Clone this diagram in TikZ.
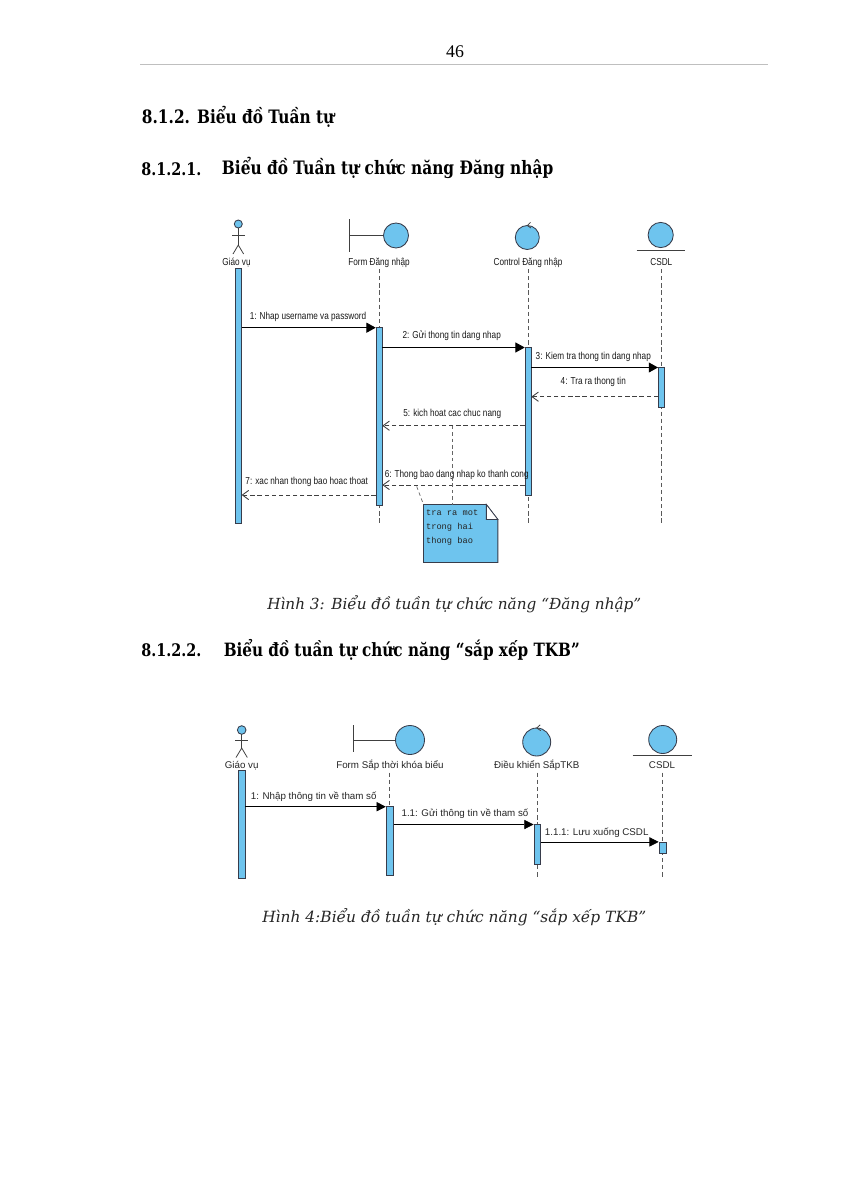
\documentclass[tikz,border=0pt]{standalone}
\usepackage{fontspec}
\setmainfont{DejaVu Serif}
\newfontfamily\headfont[FakeStretch=0.83]{DejaVu Serif}
\newfontfamily\diagA[FakeStretch=0.81]{Liberation Sans}
\newfontfamily\diagB{Liberation Sans}
\newfontfamily\notef{Liberation Mono}
\newfontfamily\pgnumf{Liberation Serif}
\usetikzlibrary{arrows.meta}
\newlength\pxu
\setlength\pxu{0.7017pt}
\definecolor{umlblue}{RGB}{110,196,238}
\definecolor{umledge}{RGB}{55,60,75}
\begin{document}
\begin{tikzpicture}[x=0.7017pt,y=-0.7017pt,
  lblA/.style={font=\diagA\fontsize{7.1}{8}\selectfont, inner sep=0, anchor=base, text=black!90},
  lblB/.style={font=\diagB\fontsize{6.85}{8}\selectfont, inner sep=0, anchor=base, text=black!85},
  actbar/.style={draw=umledge, fill=umlblue, line width=0.55pt, inner sep=0, anchor=north},
  lifeline/.style={draw=black!65, dash pattern=on 3pt off 2pt, line width=0.5pt},
  msgA/.style={draw=black, line width=0.6pt, -{Triangle[length=6.5pt,width=7pt]}},
  msgB/.style={draw=black, line width=0.55pt, -{Triangle[length=6.5pt,width=6.5pt]}},
  ret/.style={draw=black!75, line width=0.6pt, dash pattern=on 3pt off 2pt, -{Straight Barb[length=4.5pt,width=6.5pt]}},
  icon/.style={draw=umledge, fill=umlblue, line width=0.6pt},
  stick/.style={draw=black!75, line width=0.55pt},
  notebox/.style={draw=umledge, fill=umlblue, line width=0.55pt},
  notelink/.style={draw=black!60, dash pattern=on 2.5pt off 2pt, line width=0.5pt},
  headf/.style={font=\headfont\bfseries\fontsize{12.8}{15}\selectfont, inner sep=0, anchor=base west},
  capf/.style={font=\itshape\fontsize{12}{14}\selectfont, inner sep=0, anchor=base west, text=black!85}
]
\useasboundingbox[fill=white] (0,0) rectangle (848,1200);

% ---------- page header ----------
\node[font=\pgnumf\fontsize{12.5}{14}\selectfont, inner sep=0, anchor=base] (pnum) at (455,58) {46};
\coordinate (hlL) at (140,64);
\coordinate (hlR) at (768,64);
\draw[black!25, line width=0.6pt] (hlL) -- (hlR);

% ---------- headings ----------
\node[headf] (h1) at (141.7,123.3) {\resizebox{192.3\pxu}{!}{8.1.2. Biểu đồ Tuần tự}};
\node[headf] (h2) at (141,175) {\makebox[80.7\pxu][l]{\resizebox{60\pxu}{!}{8.1.2.1.}}\resizebox{331.3\pxu}{!}{Biểu đồ Tuần tự chức năng Đăng nhập}};
\node[capf] (cap1) at (267,609) {\resizebox{374\pxu}{!}{Hình 3: Biểu đồ tuần tự chức năng “Đăng nhập”}};
\node[headf] (h3) at (141,656) {\makebox[82.5\pxu][l]{\resizebox{60\pxu}{!}{8.1.2.2.}}\resizebox{356\pxu}{!}{Biểu đồ tuần tự chức năng “sắp xếp TKB”}};
\node[capf] (cap2) at (262,922) {\resizebox{384\pxu}{!}{Hình 4:Biểu đồ tuần tự chức năng “sắp xếp TKB”}};

% ================= DIAGRAM 1 =================
% actor
\draw[icon] (238.3,224) circle[radius=4];
\draw[stick] (238.3,228) -- (238.3,245);
\draw[stick] (232,235) -- (244.6,235);
\draw[stick] (233,254) -- (238.3,245) -- (243.6,254);
% boundary
\draw[stick] (349,219) -- (349,252);
\draw[stick] (349,235.5) -- (383.5,235.5);
\draw[icon] (396,235.5) circle[radius=12.5];
% control
\draw[icon] (527.3,237.5) circle[radius=12];
\draw[stick] (530.5,222.3) -- (527.3,225.5) -- (531,228);
% entity
\draw[icon] (660.7,235) circle[radius=12.6];
\draw[stick] (636.7,250.5) -- (685,250.5);

% labels
\node[lblA] (gvAl) at (236.5,265) {Giáo vụ};
\node[lblA] (fmAl) at (379,265) {Form Đăng nhập};
\node[lblA] (ctAl) at (528,265) {Control Đăng nhập};
\node[lblA] (dbAl) at (661.3,265) {CSDL};

% lifelines
\coordinate (fmAtop) at (379,269);
\coordinate (ctAtop) at (528,269);
\coordinate (dbAtop) at (661.3,269);
\coordinate (fmAend) at (379,523);
\coordinate (ctAend) at (528,523);
\coordinate (dbAend) at (661.3,523);
\draw[lifeline] (fmAtop) -- (fmAend);
\draw[lifeline] (ctAtop) -- (ctAend);
\draw[lifeline] (dbAtop) -- (dbAend);

% activation bars
\node[actbar, minimum width=5.8\pxu, minimum height=255\pxu] (gvA) at (238.3,268) {};
\node[actbar, minimum width=5.8\pxu, minimum height=178\pxu] (fmA) at (379,327) {};
\node[actbar, minimum width=5.8\pxu, minimum height=148\pxu] (ctA) at (528,347) {};
\node[actbar, minimum width=5.8\pxu, minimum height=39.5\pxu] (dbA) at (661.3,367.3) {};

% message rows
\coordinate (a1) at (0,327.7);
\coordinate (a2) at (0,347.5);
\coordinate (a3) at (0,367.5);
\coordinate (a4) at (0,396.7);
\coordinate (a5) at (0,425.7);
\coordinate (a6) at (0,485);
\coordinate (a7) at (0,495);

\draw[msgA] (gvA.east |- a1) -- (fmA.west |- a1);
\draw[msgA] (fmA.east |- a2) -- (ctA.west |- a2);
\draw[msgA] (ctA.east |- a3) -- (dbA.west |- a3);
\draw[ret] (dbA.west |- a4) -- (ctA.east |- a4);
\draw[ret] (ctA.west |- a5) -- (fmA.east |- a5);
\draw[ret] (ctA.west |- a6) -- (fmA.east |- a6);
\draw[ret] (fmA.west |- a7) -- (gvA.east |- a7);

\node[lblA] (t1) at (308,319.5) {1: Nhap username va password};
\node[lblA] (t2) at (451.7,338.8) {2: Gửi thong tin dang nhap};
\node[lblA] (t3) at (593.3,359.2) {3: Kiem tra thong tin dang nhap};
\node[lblA] (t4) at (593.3,384.8) {4: Tra ra thong tin};
\node[lblA] (t5) at (452.3,416.2) {5: kich hoat cac chuc nang};
\node[lblA] (t6) at (456.7,477.5) {6: Thong bao dang nhap ko thanh cong};
\node[lblA] (t7) at (306.7,484.3) {7: xac nhan thong bao hoac thoat};

% note
\node[inner sep=0, minimum width=73.8\pxu, minimum height=57.5\pxu, anchor=north west] (note) at (423.5,504.5) {};
\draw[notebox] (note.north west) -- ([xshift=-11.5\pxu]note.north east) -- ([yshift=-15\pxu]note.north east) -- (note.south east) -- (note.south west) -- cycle;
\draw[draw=umledge, fill=white, line width=0.55pt] ([xshift=-11.5\pxu]note.north east) -- ([xshift=-11.5\pxu,yshift=-15\pxu]note.north east) -- ([yshift=-15\pxu]note.north east) -- cycle;
\node[font=\notef\fontsize{6.1}{10}\selectfont, inner sep=0, anchor=west, align=left, text=black!85] (notet) at (425.8,527.6) {tra ra mot\\trong hai\\thong bao};
\coordinate (n5) at (452.7,425.7);
\coordinate (n6) at (416.7,486.5);
\draw[notelink] (n5) -- (n5 |- note.north);
\draw[notelink] (n6) -- (note.north west);

% ================= DIAGRAM 2 =================
% actor
\draw[icon] (241.7,730) circle[radius=4.3];
\draw[stick] (241.7,734.3) -- (241.7,748);
\draw[stick] (235,740) -- (248.3,740);
\draw[stick] (236,757.5) -- (241.7,748) -- (247.3,757.5);
% boundary
\draw[stick] (353.3,725) -- (353.3,751.7);
\draw[stick] (353.3,740) -- (395.5,740);
\draw[icon] (410,740) circle[radius=14.5];
% control
\draw[icon] (536.7,742) circle[radius=14];
\draw[stick] (540.2,724.8) -- (536.7,728) -- (540.7,730.6);
% entity
\draw[icon] (662.7,739.5) circle[radius=14];
\draw[stick] (632.7,755.7) -- (691.7,755.7);

\node[lblB] (gvBl) at (241.7,768.5) {Giáo vụ};
\node[lblB] (fmBl) at (390,768.3) {Form Sắp thời khóa biểu};
\node[lblB] (ctBl) at (536.7,768.5) {Điều khiển SắpTKB};
\node[lblB] (dbBl) at (662,768.5) {CSDL};

\coordinate (fmBtop) at (389.7,772.5);
\coordinate (ctBtop) at (537.3,772.5);
\coordinate (dbBtop) at (662.8,772.5);
\coordinate (fmBend) at (389.7,805.7);
\coordinate (ctBend) at (537.3,877);
\coordinate (dbBend) at (662.8,877);
\draw[lifeline] (fmBtop) -- (fmBend);
\draw[lifeline] (ctBtop) -- (ctBend);
\draw[lifeline] (dbBtop) -- (dbBend);

\node[actbar, minimum width=6.6\pxu, minimum height=108.3\pxu] (gvB) at (241.7,770) {};
\node[actbar, minimum width=7\pxu, minimum height=69.3\pxu] (fmB) at (389.7,805.7) {};
\node[actbar, minimum width=6.7\pxu, minimum height=40\pxu] (ctB) at (537.3,824.3) {};
\node[actbar, minimum width=7.5\pxu, minimum height=11\pxu] (dbB) at (662.8,841.7) {};

\coordinate (b1) at (0,806.7);
\coordinate (b2) at (0,824.5);
\coordinate (b3) at (0,841.9);
\draw[msgB] (gvB.east |- b1) -- (fmB.west |- b1);
\draw[msgB] (fmB.east |- b2) -- (ctB.west |- b2);
\draw[msgB] (ctB.east |- b3) -- (dbB.west |- b3);

\node[lblB] (u1) at (313.7,799.2) {1: Nhập thông tin về tham số};
\node[lblB] (u2) at (465,816.6) {1.1: Gửi thông tin về tham số};
\node[lblB] (u3) at (596.7,835.2) {1.1.1: Lưu xuống CSDL};
\end{tikzpicture}
\end{document}
